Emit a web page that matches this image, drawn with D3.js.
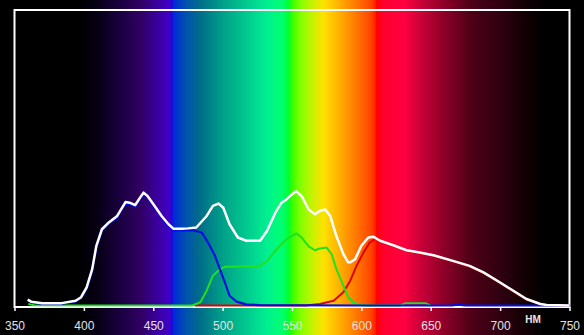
<!DOCTYPE html>
<html>
<head>
<meta charset="utf-8">
<script src="https://cdn.jsdelivr.net/npm/d3@7"></script>
<style>
  html, body { margin: 0; padding: 0; background: #000; }
  svg { display: block; }
  .tick text { font-family: "Liberation Sans", Arial, sans-serif; font-size: 12px; fill: #e2e2e2; }
  .tick line { stroke: #fff; stroke-width: 1.5; }
</style>
</head>
<body>
<div id="chart"></div>
<script>
// Svg size
var svgWidth = 584;
var svgHeight = 335;

// plot frame in pixels
var frame = { left: 14.5, right: 569.5, top: 10, bottom: 307 };

// x ticks (nm)
var tickValues = [350, 400, 450, 500, 550, 600, 650, 700, 750];
var unitLabel = "НМ";

// spectrum colours behind the plot: [nm, colour]
var spectrumStops = [
  [397, "#000000"], [411, "#080018"], [426, "#1a0040"], [440, "#300060"],
  [455, "#3c00a8"], [462, "#4000c8"], [463.3, "#2400e0"], [464.5, "#0028d8"],
  [473, "#0050b0"], [484, "#006e88"], [500, "#00a088"], [520, "#00d090"],
  [532, "#00f090"], [543, "#00ff70"], [548, "#00ff30"], [549.5, "#30ff00"],
  [556, "#80ff00"], [566, "#d0f000"], [573, "#ffe000"], [584, "#ffb000"],
  [598, "#ff7000"], [607, "#ff4400"], [610, "#ff2000"], [611, "#ff0000"],
  [616, "#ff0030"], [631, "#ff0040"], [643, "#c80038"], [659, "#900028"],
  [678, "#500018"], [700, "#300010"], [719, "#100004"], [733, "#000000"]
];

// curves: [nm, relative intensity]
var whiteCurve = [
  [359.5, 2.0], [362, 1.3], [370, 0.8], [384, 0.8], [394, 1.6], [398, 2.8],
  [402, 6.1], [406, 12.3], [409, 20.2], [413, 25.8], [418, 28.1], [424, 30.3],
  [430, 35.0], [433, 34.8], [437, 34.0], [440.5, 36.5], [443, 38.2], [446, 37.0],
  [451, 33.7], [456, 30.3], [461, 27.5], [464.5, 26.0], [470.5, 26.0], [475, 26.1],
  [481, 26.4], [488.5, 30.3], [493, 33.7], [497, 34.5], [500.5, 33.1], [505, 27.5],
  [511, 23.0], [517, 21.9], [527, 21.9], [532, 25.2], [538, 31.4], [542.5, 34.8],
  [546, 35.9], [550, 37.6], [553, 38.7], [557, 37.0], [562, 32.5], [566.5, 30.9],
  [570, 32.0], [574, 32.5], [577.5, 30.3], [582, 23.5], [587, 17.4], [590.5, 14.6],
  [592, 14.6], [595.5, 15.7], [600, 20.2], [605, 23.0], [608.5, 23.3], [613.5, 21.9],
  [623, 20.4], [632.5, 18.7], [642, 17.9], [652, 17.0], [666, 15.1], [678, 13.4],
  [688, 11.2], [700, 7.8], [709.5, 5.0], [719, 2.2], [729, 0.5], [733.5, 0.2],
  [750, 0]
];

var blueCurve = [
  [359.5, 1.8], [362, 1.0], [370, 0.6], [384, 0.6], [394, 1.3], [398, 2.5],
  [402, 5.6], [406, 11.8], [409, 19.7], [413, 25.3], [418, 27.6], [424, 29.8],
  [430, 34.5], [433, 34.3], [437, 33.5], [440.5, 36.0], [443, 37.7], [446, 36.5],
  [451, 33.2], [456, 29.8], [461, 27.0], [464.5, 25.5], [470.5, 25.4], [479, 25.4],
  [485, 24.7], [489.5, 21.3], [494.5, 16.8], [498, 12.3], [502, 7.3], [505, 3.3],
  [510, 1.3], [517, 0.4], [527, 0.1], [600, 0], [665, 0], [670, 0.3], [675, 0],
  [750, 0]
];

var greenCurve = [
  [360, 0.5], [364, 0.1], [478, 0], [484, 1.1], [488.5, 5.0], [493, 10.1],
  [498, 12.3], [502, 13.1], [512.5, 13.2], [527, 13.4], [532, 15.1], [539, 19.1],
  [546, 22.4], [553, 24.4], [557, 23.0], [562, 20.0], [566.5, 18.7], [570, 19.3],
  [575, 19.6], [578.5, 17.4], [582, 12.3], [587, 6.7], [590.5, 2.8], [594, 1.1],
  [599, 0.2], [605, 0], [628, 0], [632, 0.8], [646, 0.8], [650, 0]
];

var redCurve = [
  [480, 0], [560, 0], [570, 0.5], [580, 1.6], [587, 4.5], [592, 8.4],
  [596.5, 13.4], [601.5, 17.9], [606, 21.3], [611, 22.7], [613.5, 21.6],
  [623, 20.1], [632.5, 18.4], [642, 17.6], [652, 16.8], [666, 14.9], [678, 13.2],
  [688, 11.0], [700, 7.6], [709.5, 4.8], [719, 2.0], [729, 0.4], [733.5, 0.1],
  [750, 0]
];

var svg = d3.select("#chart")
  .append("svg")
  .attr("width", svgWidth)
  .attr("height", svgHeight);

// scales
var xScale = d3.scaleLinear()
  .domain([350, 750])
  .range([frame.left, frame.right]);

var yScale = d3.scaleLinear()
  .domain([0, 100])
  .range([305.5, frame.top]);

// spectrum gradient over the whole picture
var grad = svg.append("defs").append("linearGradient")
  .attr("id", "spectrum")
  .attr("gradientUnits", "userSpaceOnUse")
  .attr("x1", 0).attr("x2", svgWidth)
  .attr("y1", 0).attr("y2", 0);

grad.selectAll("stop")
  .data(spectrumStops)
  .enter()
  .append("stop")
  .attr("offset", d => xScale(d[0]) / svgWidth)
  .attr("stop-color", d => d[1]);

svg.append("rect")
  .attr("width", svgWidth)
  .attr("height", svgHeight)
  .attr("fill", "url(#spectrum)");

// frame
svg.append("rect")
  .attr("x", frame.left)
  .attr("y", frame.top)
  .attr("width", frame.right - frame.left)
  .attr("height", frame.bottom - frame.top)
  .attr("fill", "none")
  .attr("stroke", "#fff")
  .attr("stroke-width", 2);

// x axis
var bottomAxis = d3.axisBottom(xScale)
  .tickValues(tickValues)
  .tickSize(4)
  .tickPadding(10)
  .tickFormat(d3.format("d"));

var xAxis = svg.append("g")
  .attr("transform", `translate(0, ${frame.bottom})`)
  .call(bottomAxis);
xAxis.select(".domain").remove();

svg.append("text")
  .attr("x", 533)
  .attr("y", 323)
  .attr("text-anchor", "middle")
  .style("font-family", "Liberation Sans, Arial, sans-serif")
  .style("font-size", "10px")
  .style("font-weight", "bold")
  .style("fill", "#e8e8e8")
  .text(unitLabel);

// curves
var line = d3.line()
  .x(d => xScale(d[0]))
  .y(d => yScale(d[1]));

var series = [
  { data: redCurve, color: "#e00000", width: 2 },
  { data: greenCurve, color: "#20e020", width: 2 },
  { data: blueCurve, color: "#0010e0", width: 2.2 },
  { data: whiteCurve, color: "#ffffff", width: 2.5 }
];

series.forEach(function(s) {
  svg.append("path")
    .datum(s.data)
    .attr("d", line)
    .attr("fill", "none")
    .attr("stroke", s.color)
    .attr("stroke-width", s.width)
    .attr("stroke-linejoin", "round");
});
</script>
</body>
</html>
